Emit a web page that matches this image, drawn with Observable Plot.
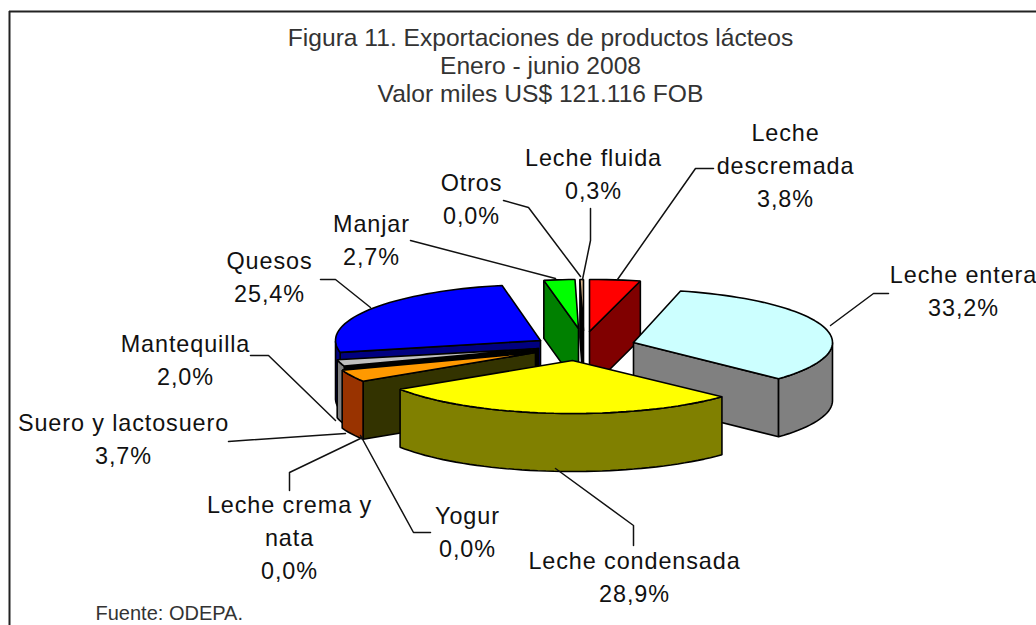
<!DOCTYPE html>
<html><head><meta charset="utf-8">
<script src="https://cdn.jsdelivr.net/npm/d3@7"></script>
<script src="https://cdn.jsdelivr.net/npm/@observablehq/plot@0.6"></script>
<style>
html,body{margin:0;padding:0;background:#fff;overflow:hidden}
svg{display:block}
.lab text{letter-spacing:.9px}
</style></head><body><div id="chart"></div>
<script>
const categories = ["Leche descremada","Leche entera","Leche condensada","Yogur","Leche crema y nata","Suero y lactosuero","Mantequilla","Quesos","Manjar","Otros","Leche fluida"];
const shares = [3.8,33.2,28.9,0,0,3.7,2.0,25.4,2.7,0,0.3];
const shareLabels = ["3,8%","33,2%","28,9%","0,0%","0,0%","3,7%","2,0%","25,4%","2,7%","0,0%","0,3%"];
const labelLines = ["Leche\ndescremada","Leche entera","Leche condensada","Yogur","Leche crema y\nnata","Suero y lactosuero","Mantequilla","Quesos","Manjar","Otros","Leche fluida"];
const titleLines = "Figura 11. Exportaciones de productos lácteos\nEnero - junio 2008\nValor miles US$ 121.116 FOB";
const source = "Fuente: ODEPA.";

// Layout of the exploded pseudo-3D pie (pixel space of the identity scales)
const depth = 58;
const pieLayout = {
  "Manjar":{cx:578,cy:328,rx:185,ry:49,top:"#00ff00",side:"#008000",cut:"#008000"},
  "Leche fluida":{cx:583,cy:330,rx:190,ry:51,top:"#d9b38c",side:"#000",cut:"#000"},
  "Leche descremada":{cx:589,cy:331,rx:215,ry:52,top:"#ff0000",side:"#800000",cut:"#800000"},
  "Quesos":{cx:540,cy:340,rx:205,ry:56,top:"#0000ff",side:"#000080",cut:"#000080"},
  "Mantequilla":{cx:538,cy:348,rx:206,ry:53,top:"#c0c0c0",side:"#808080",cut:"#000"},
  "Suero y lactosuero":{cx:535,cy:352,rx:205,ry:53,top:"#ff9900",side:"#993300",cut:"#333300"},
  "Leche entera":{cx:633,cy:342,rx:199,ry:53,top:"#ccffff",side:"#808080",cut:"#808080"},
  "Leche condensada":{cx:572,cy:360,rx:205,ry:53,top:"#ffff00",side:"#808000",cut:"#808000"}
};
const paintOrder = ["Manjar","Leche fluida","Leche descremada","Quesos","Mantequilla","Suero y lactosuero","Leche entera","Leche condensada"];

// Label placement and leader elbows
const labelPos = {
  "Leche descremada":[785,133],"Leche entera":[963,275],"Leche condensada":[634,561],"Yogur":[467,516],
  "Leche crema y nata":[289,505],"Suero y lactosuero":[123,423],"Mantequilla":[185,344],"Quesos":[269,261],
  "Manjar":[371,224],"Otros":[471,183],"Leche fluida":[593,158]
};
const leaders = [
  [[617,279],[695,168],[713,168]],
  [[830,325],[873,293],[888,293]],
  [[555,468],[633,525],[633,545]],
  [[360,435],[413,532],[430,532]],
  [[289,490],[289,472],[362,437]],
  [[228,441],[345,433]],
  [[250,355],[268,355],[335,420]],
  [[320,279],[335,279],[370,307]],
  [[410,240],[555,278]],
  [[503,200],[528,207],[580,276]],
  [[590,208],[590,240],[582,279]]
];

// Angular extents from the shares, clockwise from the top
const total = d3.sum(shares);
let acc = 0;
const extents = new Map(categories.map((c,i)=>{const a=acc; acc+=shares[i]; return [c,[a/total*2*Math.PI,acc/total*2*Math.PI]];}));

const faces = [];
for (const name of paintOrder) {
  const {cx,cy,rx,ry,top,side,cut} = pieLayout[name];
  const [a0,a1] = extents.get(name);
  const pt = (a,dz=0)=>({x:cx+rx*Math.sin(a),y:cy-ry*Math.cos(a)+dz});
  const apex = {x:cx,y:cy};
  const apexLow = {x:cx,y:cy+depth};
  const n = Math.max(2,Math.ceil((a1-a0)/0.04));
  const angles = d3.range(n+1).map(i=>a0+(a1-a0)*i/n);
  if (Math.sin(a0)<0) faces.push({fill:cut,pts:[apex,pt(a0),pt(a0,depth),apexLow,apex]});
  if (Math.sin(a1)>0) faces.push({fill:cut,pts:[apex,pt(a1),pt(a1,depth),apexLow,apex]});
  const front = angles.filter(a=>Math.cos(a)<0.02);
  if (front.length>1) {
    faces.push({fill:side,pts:[...front.map(a=>pt(a)),...front.slice().reverse().map(a=>pt(a,depth)),pt(front[0])]});
  }
  faces.push({fill:top,pts:[apex,...angles.map(a=>pt(a)),apex]});
}

const labels = categories.map((c,i)=>({x:labelPos[c][0],y:labelPos[c][1],t:labelLines[i]+"\n"+shareLabels[i]}));
const font = "'Liberation Sans',Arial,sans-serif";

const chart = Plot.plot({
  width:1036,height:625,margin:0,
  x:{domain:[0,1036],range:[0,1036],axis:null},
  y:{domain:[0,625],range:[0,625],axis:null},
  style:{background:"#fff"},
  marks:[
    Plot.ruleX([9],{y1:11,y2:625,stroke:"#222",strokeWidth:2}),
    Plot.ruleY([11],{x1:9,x2:1036,stroke:"#222",strokeWidth:2}),
    ...faces.map(f=>Plot.line(f.pts,{x:"x",y:"y",fill:f.fill,stroke:"#000",strokeWidth:1.6,strokeLinejoin:"miter"})),
    ...leaders.map(l=>Plot.line(l,{x:d=>d[0],y:d=>d[1],stroke:"#111",strokeWidth:1.5})),
    Plot.text([titleLines],{x:()=>540,y:()=>38,text:d=>d,lineAnchor:"top",lineHeight:1.13,fontSize:24.6,fontFamily:font,fill:"#333",dy:-12}),
    Plot.text(labels,{x:"x",y:"y",text:"t",lineAnchor:"top",lineHeight:1.41,fontSize:23.4,fontFamily:font,fill:"#111",className:"lab",dy:-16}),
    Plot.text([source],{x:()=>95,y:()=>613,text:d=>d,textAnchor:"start",fontSize:20,fontFamily:font,fill:"#333"})
  ]
});
document.getElementById("chart").append(chart);
</script></body></html>
